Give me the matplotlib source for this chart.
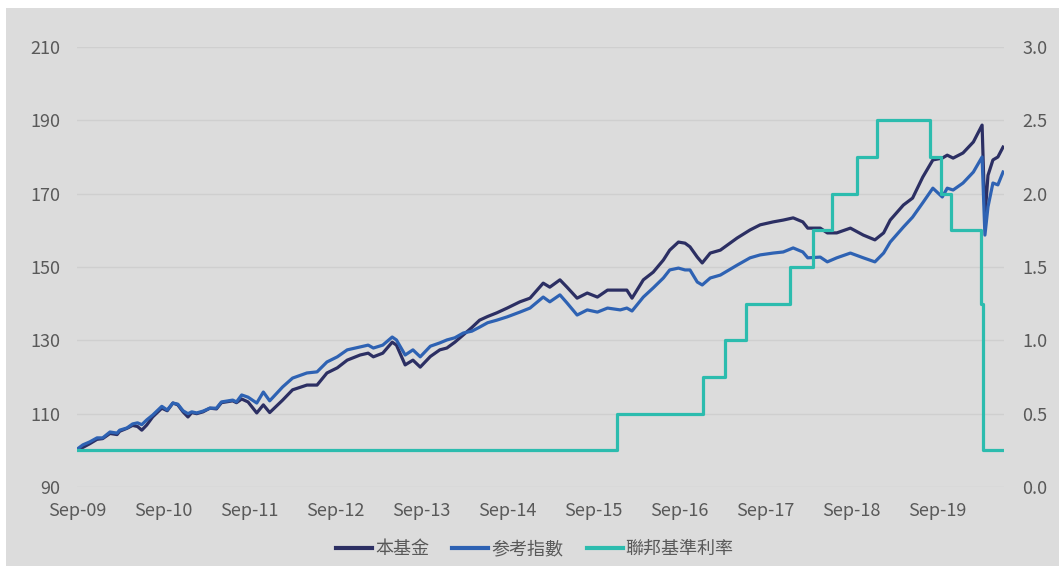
import matplotlib
matplotlib.use("Agg")
import matplotlib.pyplot as plt
import matplotlib.dates as mdates
import pandas as pd
from matplotlib.patches import Rectangle

plt.rcParams['font.family'] = ['Noto Sans CJK TC', 'DejaVu Sans']

# ---------------- data ----------------
dates = ["2009-09-01", "2009-09-26", "2009-10-25", "2009-11-25", "2009-12-19",
         "2010-01-19", "2010-02-18", "2010-03-01", "2010-04-01", "2010-04-25",
         "2010-05-16", "2010-06-03", "2010-06-24", "2010-07-19", "2010-08-27",
         "2010-09-19", "2010-10-13", "2010-11-03", "2010-11-25", "2010-12-16",
         "2011-01-01", "2011-01-22", "2011-02-18", "2011-03-19", "2011-04-16",
         "2011-05-07", "2011-06-24", "2011-07-10", "2011-08-01", "2011-08-28",
         "2011-10-04", "2011-11-01", "2011-11-28", "2012-01-22", "2012-03-04",
         "2012-05-04", "2012-06-16", "2012-07-28", "2012-09-10", "2012-10-22",
         "2012-12-16", "2013-01-19", "2013-02-10", "2013-03-22", "2013-05-01",
         "2013-05-19", "2013-06-25", "2013-07-28", "2013-08-28", "2013-10-10",
         "2013-11-19", "2013-12-19", "2014-01-22", "2014-02-27", "2014-04-04",
         "2014-05-07", "2014-06-10", "2014-07-19", "2014-09-01", "2014-10-25",
         "2014-12-07", "2015-02-01", "2015-03-01", "2015-04-13", "2015-05-13",
         "2015-06-25", "2015-08-07", "2015-09-19", "2015-11-01", "2015-12-25",
         "2016-01-22", "2016-02-13", "2016-04-01", "2016-05-13", "2016-06-25",
         "2016-07-22", "2016-08-28", "2016-09-25", "2016-10-16", "2016-11-16",
         "2016-12-07", "2017-01-10", "2017-02-22", "2017-05-04", "2017-06-28",
         "2017-08-10", "2017-10-04", "2017-11-16", "2017-12-28", "2018-02-07",
         "2018-02-28", "2018-04-22", "2018-05-22", "2018-07-01", "2018-08-28",
         "2018-10-22", "2018-12-10", "2019-01-16", "2019-02-13", "2019-04-10",
         "2019-05-19", "2019-07-01", "2019-08-13", "2019-09-22", "2019-10-13",
         "2019-11-07", "2019-12-19", "2020-02-01", "2020-03-09", "2020-03-21",
         "2020-04-03", "2020-04-24", "2020-05-15", "2020-06-06"]

fund = [100.1, 100.8, 101.8, 103.0, 103.2,
        104.6, 104.3, 105.2, 106.0, 106.8,
        106.5, 105.5, 106.9, 109.1, 111.5,
        110.8, 112.9, 112.4, 110.5, 109.1,
        110.3, 110.0, 110.5, 111.5, 111.3,
        113.0, 113.5, 113.0, 114.0, 113.2,
        110.2, 112.4, 110.3, 113.7, 116.5,
        117.8, 117.8, 121.1, 122.5, 124.6,
        126.0, 126.5, 125.5, 126.5, 129.5,
        128.7, 123.3, 124.6, 122.7, 125.6,
        127.4, 127.9, 129.5, 131.5, 133.5,
        135.5, 136.5, 137.5, 138.8, 140.5,
        141.5, 145.6, 144.5, 146.5, 144.5,
        141.5, 142.9, 141.8, 143.7, 143.7,
        143.7, 141.5, 146.5, 148.6, 151.9,
        154.6, 156.8, 156.5, 155.5, 152.7,
        151.1, 153.8, 154.6, 157.9, 160.1,
        161.5, 162.3, 162.8, 163.4, 162.3,
        160.6, 160.6, 159.3, 159.3, 160.6,
        158.7, 157.4, 159.3, 162.8, 166.9,
        168.8, 174.5, 179.2, 179.7, 180.5,
        179.7, 181.1, 184.1, 188.7, 163.5,
        175.0, 179.2, 180.0, 182.7]

index_ = [100.3, 101.5, 102.3, 103.4, 103.4,
          105.0, 104.7, 105.5, 106.1, 107.2,
          107.5, 107.0, 108.3, 109.6, 112.0,
          111.0, 112.9, 112.6, 110.8, 110.0,
          110.5, 110.2, 110.7, 111.5, 111.5,
          113.2, 113.7, 113.2, 115.1, 114.5,
          112.9, 115.9, 113.5, 117.3, 119.7,
          121.1, 121.4, 124.1, 125.5, 127.4,
          128.2, 128.7, 127.9, 128.7, 130.9,
          130.1, 126.0, 127.4, 125.5, 128.4,
          129.3, 130.1, 130.7, 132.0, 132.5,
          133.6, 134.8, 135.5, 136.4, 137.7,
          138.8, 141.8, 140.5, 142.4, 140.2,
          136.9, 138.3, 137.7, 138.8, 138.3,
          138.8, 138.0, 141.8, 144.3, 147.0,
          149.2, 149.7, 149.2, 149.2, 145.9,
          145.1, 147.0, 147.8, 150.5, 152.5,
          153.3, 153.8, 154.1, 155.2, 154.1,
          152.5, 152.7, 151.4, 152.5, 153.8,
          152.5, 151.4, 153.8, 156.8, 160.9,
          163.6, 167.5, 171.5, 169.1, 171.5,
          171.0, 172.9, 175.9, 180.0, 158.7,
          166.4, 172.9, 172.4, 175.9]

rate_dates = ["2009-09-01", "2015-12-10", "2016-12-10", "2017-03-13", "2017-06-10",
              "2017-12-15", "2018-03-21", "2018-06-10", "2018-09-25", "2018-12-19",
              "2019-08-01", "2019-09-16", "2019-10-28", "2020-03-03", "2020-03-12",
              "2020-06-10"]
rate = [0.25, 0.50, 0.75, 1.00, 1.25,
        1.50, 1.75, 2.00, 2.25, 2.50,
        2.25, 2.00, 1.75, 1.25, 0.25,
        0.25]

left_ticks = [90, 110, 130, 150, 170, 190, 210]
right_ticks = [0.0, 0.5, 1.0, 1.5, 2.0, 2.5, 3.0]
x_tick_dates = ["2009-09-01", "2010-09-01", "2011-09-01", "2012-09-01", "2013-09-01",
                "2014-09-01", "2015-09-01", "2016-09-01", "2017-09-01", "2018-09-01",
                "2019-09-01"]
x_tick_labels = ["Sep-09", "Sep-10", "Sep-11", "Sep-12", "Sep-13", "Sep-14",
                 "Sep-15", "Sep-16", "Sep-17", "Sep-18", "Sep-19"]
series_names = ["本基金", "参考指數", "聯邦基準利率"]

# ---------------- style ----------------
BG = "#dcdcdc"
GRID = "#cfcfcf"
TXT = "#595959"
C_FUND = "#2c2f63"
C_IDX = "#2e62b3"
C_RATE = "#2cbcae"

W, H = 1059, 566
fig = plt.figure(figsize=(W / 100, H / 100), dpi=100)
fig.patch.set_facecolor("white")
fig.patches.append(Rectangle((6 / W, 0), 1 - 6 / W, 1 - 8 / H, transform=fig.transFigure,
                             facecolor=BG, edgecolor="none", zorder=-10))

ax = fig.add_axes([77 / W, 1 - 487 / H, (1004 - 77) / W, (487 - 47) / H])
ax.set_facecolor("none")
ax2 = ax.twinx()

d = pd.to_datetime(dates)
rd = pd.to_datetime(rate_dates)

l1, = ax.plot(d, fund, color=C_FUND, lw=2.3, zorder=3, solid_joinstyle="round")
l2, = ax.plot(d, index_, color=C_IDX, lw=2.3, zorder=4, solid_joinstyle="round")
l3, = ax2.plot(rd, rate, color=C_RATE, lw=2.3, drawstyle="steps-post", zorder=5)

ax.set_ylim(90, 210)
ax.set_yticks(left_ticks)
ax2.set_ylim(0, 3.0)
ax2.set_yticks(right_ticks)
ax2.set_yticklabels([f"{v:.1f}" for v in right_ticks])

ax.set_xlim(pd.Timestamp("2009-09-01"), pd.Timestamp("2020-06-10"))
ax.set_xticks(pd.to_datetime(x_tick_dates))
ax.set_xticklabels(x_tick_labels)

ax.grid(axis="y", color=GRID, lw=1.0, zorder=0)
ax.set_axisbelow(True)
for a in (ax, ax2):
    for s in a.spines.values():
        s.set_visible(False)
    a.tick_params(length=0, colors=TXT, labelsize=13)
ax.tick_params(axis="y", pad=12)
ax.tick_params(axis="x", pad=11)
ax2.tick_params(axis="y", pad=13)

leg = fig.legend([l1, l2, l3], series_names, loc="center", bbox_to_anchor=(0.505, 1 - 549 / H),
                 ncol=3, frameon=False, fontsize=13, handlelength=2.0, handletextpad=0.15,
                 columnspacing=1.3, labelcolor=TXT)
for h in leg.get_lines():
    h.set_linewidth(3)

fig.savefig("out.png", dpi=100, facecolor=fig.get_facecolor())
